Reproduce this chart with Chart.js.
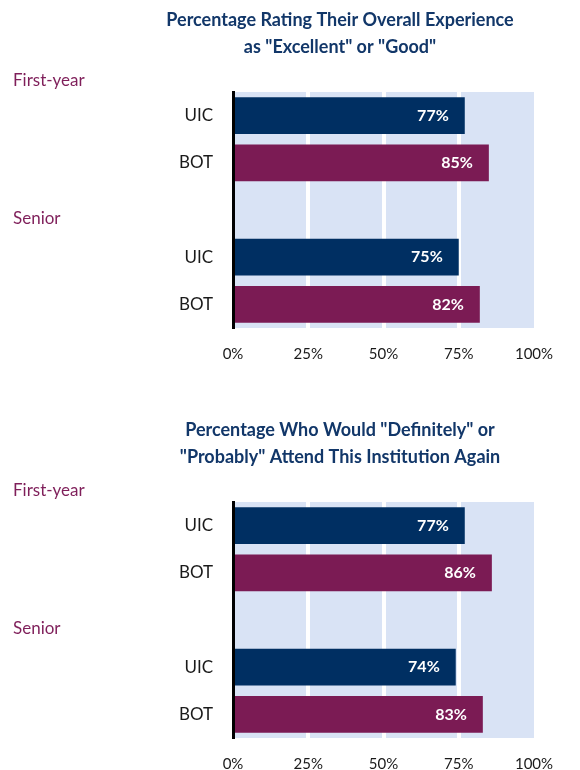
<!DOCTYPE html>
<html>
<head>
<meta charset="utf-8">
<script src="https://cdn.jsdelivr.net/npm/chart.js@4.4.1/dist/chart.umd.min.js"></script>
<style>
  html, body { margin: 0; padding: 0; background: #fff; overflow: hidden; }
  .chart-box { position: absolute; left: 0; width: 580px; }
  #chartTop { top: 0; }
  #chartBottom { top: 410px; }
</style>
</head>
<body>
<div class="chart-box" id="chartTop"><canvas id="experienceChart" width="580" height="370"></canvas></div>
<div class="chart-box" id="chartBottom"><canvas id="attendChart" width="580" height="370"></canvas></div>

<script>
// dados
const categories = ["UIC", "BOT", "", "UIC", "BOT"];
const experienceValues = [77, 85, null, 75, 82];
const attendValues = [77, 86, null, 74, 83];
const groupLabels = ["First-year", "Senior"];
const experienceTitle = ["Percentage Rating Their Overall Experience", 'as "Excellent" or "Good"'];
const attendTitle = ['Percentage Who Would "Definitely" or', '"Probably" Attend This Institution Again'];
const xTicks = [0, 25, 50, 75, 100];

const NAVY = "#002F62";
const MAROON = "#7B1B54";
const FONT = "Lato, 'Open Sans', sans-serif";

// fundo azul claro da área do gráfico
const plotBackground = {
  id: "plotBackground",
  beforeDraw(chart) {
    const { ctx, chartArea } = chart;
    ctx.save();
    ctx.fillStyle = "#D9E3F5";
    ctx.fillRect(chartArea.left, chartArea.top, chartArea.right - chartArea.left, chartArea.bottom - chartArea.top);
    ctx.restore();
  },
};

// títulos, rótulos de grupo e valores dentro das barras
const annotations = {
  id: "annotations",
  afterDatasetsDraw(chart, args, opts) {
    const { ctx, chartArea } = chart;
    const yScale = chart.scales.y;
    ctx.save();

    ctx.fillStyle = "#123769";
    ctx.font = "bold 18px " + FONT;
    ctx.textAlign = "center";
    ctx.textBaseline = "middle";
    opts.title.forEach((line, i) => ctx.fillText(line, 340, 20 + i * 27));

    ctx.fillStyle = "#7F1F5A";
    ctx.font = "17px " + FONT;
    ctx.textAlign = "left";
    ctx.fillText(groupLabels[0], 13, chartArea.top - 11);
    ctx.fillText(groupLabels[1], 13, yScale.getPixelForValue(2) + 9);

    ctx.fillStyle = "#fff";
    ctx.font = "bold 16px " + FONT;
    ctx.textAlign = "right";
    const meta = chart.getDatasetMeta(0);
    meta.data.forEach((bar, i) => {
      const v = chart.data.datasets[0].data[i];
      if (v == null) return;
      ctx.fillText(v + "%", bar.x - 16, bar.y);
    });
    ctx.restore();
  },
};

function createBarChart(canvasId, values, title) {
  const ctx = document.getElementById(canvasId).getContext("2d");
  return new Chart(ctx, {
    type: "bar",
    data: {
      labels: categories,
      datasets: [{
        data: values,
        backgroundColor: [NAVY, MAROON, NAVY, NAVY, MAROON],
        barPercentage: 0.78,
        categoryPercentage: 1,
      }],
    },
    options: {
      indexAxis: "y",
      responsive: false,
      animation: false,
      layout: { padding: { top: 92, right: 46, left: 0, bottom: 0 } },
      plugins: {
        legend: { display: false },
        title: { display: false },
        tooltip: { enabled: false },
        annotations: { title: title },
      },
      scales: {
        x: {
          min: 0,
          max: 100,
          afterBuildTicks: (scale) => { scale.ticks = xTicks.map((v) => ({ value: v })); },
          afterFit: (scale) => { scale.height = 42; },
          ticks: {
            padding: 17,
            color: "#1a1a1a",
            font: { family: FONT, size: 15 },
            callback: (v) => v + "%",
          },
          grid: {
            drawTicks: false,
            lineWidth: 4,
            color: (c) => (c.tick && c.tick.value > 0 && c.tick.value < 100 ? "#ffffff" : "rgba(0,0,0,0)"),
          },
          border: { display: false },
        },
        y: {
          afterFit: (scale) => { scale.width = 233; },
          ticks: {
            padding: 20,
            color: "#1a1a1a",
            font: { family: FONT, size: 17 },
          },
          grid: { display: false, drawTicks: false },
          border: { display: true, color: "#000", width: 3 },
        },
      },
    },
    plugins: [plotBackground, annotations],
  });
}

createBarChart("experienceChart", experienceValues, experienceTitle);
createBarChart("attendChart", attendValues, attendTitle);
</script>
</body>
</html>
